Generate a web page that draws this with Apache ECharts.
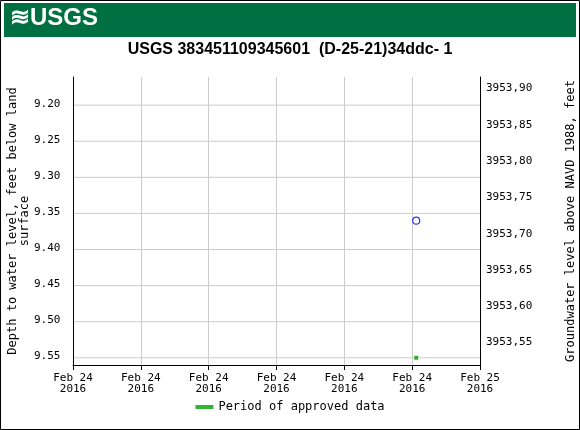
<!DOCTYPE html>
<html><head><meta charset="utf-8">
<script src="https://cdn.jsdelivr.net/npm/echarts@6/dist/echarts.min.js"></script>
<style>body{margin:0;background:#fff}#c{width:580px;height:430px}</style>
</head><body><div id="c"></div>
<script>
var xLabels = ['Feb 24\n2016','Feb 24\n2016','Feb 24\n2016','Feb 24\n2016','Feb 24\n2016','Feb 24\n2016','Feb 25\n2016'];
var leftVals = [9.20,9.25,9.30,9.35,9.40,9.45,9.50,9.55];
var rightTicks = ['3953,90','3953,85','3953,80','3953,75','3953,70','3953,65','3953,60','3953,55'];
var rightVals = [3953.90,3953.85,3953.80,3953.75,3953.70,3953.65,3953.60,3953.55];
var depthPoints = [[5.06, 9.36]];
var approvedPoints = [[5.06, 9.55]];
var chart = echarts.init(document.getElementById('c'));
var mono = 'DejaVu Sans Mono';
var base = [
  {type:'rect', shape:{x:4,y:3,width:572,height:34}, style:{fill:'#006f41'}},
  {type:'rect', shape:{x:0.5,y:0.5,width:579,height:429}, style:{fill:'none',stroke:'#000',lineWidth:1}},
  {type:'text', left:10, top:6, style:{text:'≋USGS', fill:'#fff', font:'bold 24px Liberation Sans'}},
  {type:'text', left:'center', top:42, style:{text:'USGS 383451109345601  (D-25-21)34ddc- 1', fill:'#000', font:'bold 16px Liberation Sans'}}
];
chart.setOption({
  animation: false,
  graphic: base,
  grid: {left:73, right:100, top:77, bottom:65, outerBoundsMode:'none'},
  xAxis: {type:'value', min:0, max:6, interval:1,
    axisLabel:{formatter:function(v){return xLabels[v];}, fontFamily:mono, fontSize:11, color:'#000'},
    axisLine:{lineStyle:{color:'#000'}}, axisTick:{show:true, lineStyle:{color:'#000'}},
    splitLine:{lineStyle:{color:'#ccc'}}},
  yAxis: [
    {type:'value', inverse:true, min:9.161, max:9.56,
     name:'Depth to water level, feet below land\nsurface', nameLocation:'middle', nameGap:42,
     nameTextStyle:{fontFamily:mono, fontSize:12, color:'#000'},
     axisLabel:{show:false}, axisLine:{show:true, lineStyle:{color:'#000'}}, axisTick:{show:false},
     splitLine:{show:false}},
    {type:'value', min:3953.521, max:3953.918,
     name:'Groundwater level above NAVD 1988, feet', nameLocation:'middle', nameGap:85, nameRotate:90,
     nameTextStyle:{fontFamily:mono, fontSize:12, color:'#000'},
     axisLabel:{show:false}, axisLine:{show:true, lineStyle:{color:'#000'}}, axisTick:{show:false}, splitLine:{show:false}}
  ],
  legend: {bottom:12, left:'center', data:['Period of approved data'], itemWidth:18, itemHeight:4,
    textStyle:{fontFamily:mono, fontSize:12, color:'#000'}},
  series: [
    {type:'scatter', data:depthPoints, symbol:'circle', symbolSize:7,
     itemStyle:{color:'none', borderColor:'#0000ff', borderWidth:1.2}},
    {name:'Period of approved data', type:'scatter', data:approvedPoints, symbol:'rect', symbolSize:4,
     itemStyle:{color:'#00a000'}}
  ]
});
var g = [];
var xr = chart.convertToPixel({xAxisIndex:0}, 6);
rightVals.forEach(function(v,i){
  var p = chart.convertToPixel({yAxisIndex:1}, v);
  g.push({type:'text', left:486, top:p-7, style:{text:rightTicks[i], fill:'#000', font:'11px DejaVu Sans Mono'}});
});
leftVals.forEach(function(v){
  var p = chart.convertToPixel({yAxisIndex:0}, v);
  g.push({type:'line', shape:{x1:73,y1:p,x2:xr,y2:p}, style:{stroke:'#ccc'}, z:-1});
  g.push({type:'text', left:34, top:p-7, style:{text:v.toFixed(2), fill:'#000', font:'11px DejaVu Sans Mono'}});
});
chart.setOption({graphic: base.concat(g)});
</script></body></html>
